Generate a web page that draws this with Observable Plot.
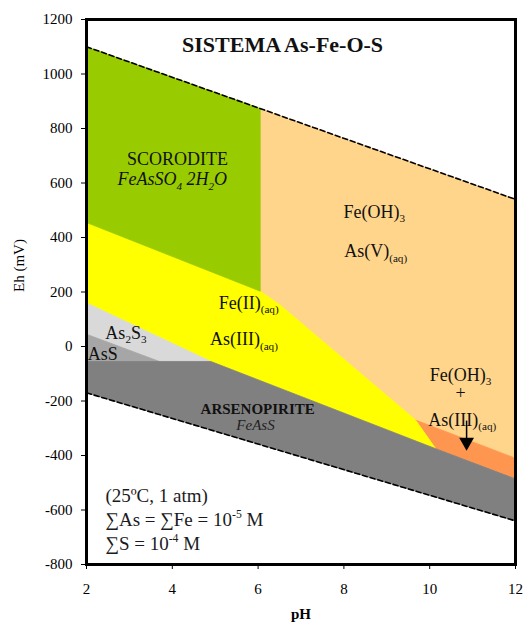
<!DOCTYPE html>
<html><head><meta charset="utf-8">
<script src="https://cdn.jsdelivr.net/npm/d3@7"></script>
<script src="https://cdn.jsdelivr.net/npm/@observablehq/plot@0.6"></script>
<style>body{margin:0;background:#fff} #chart svg{display:block}</style>
</head><body><div id="chart"></div>
<script>
// Water stability limits [pH, Eh mV]
const o2Line = [[2, 1100], [12, 540]];
const h2Line = [[2, -170], [12, -640]];
// Stability fields (polygon vertices [pH, Eh mV])
const feoh3AsV = [[6.05, 873], [12, 540], [12, -410], [9.67, -270], [6.53, 150], [6.05, 203]];
const feoh3AsIII = [[9.67, -270], [12, -410], [12, -486], [10.14, -375]];
const feIIAsIII = [[2, 455], [6.05, 203], [6.53, 150], [9.67, -270], [10.14, -375], [4.9, -55], [2, 160]];
const scorodite = [[2, 1100], [6.05, 873], [6.05, 203], [2, 455]];
const as2s3 = [[2, 160], [4.9, -55], [3.7, -55], [2, 45]];
const ass = [[2, 45], [3.7, -55], [2, -55]];
const arsenopyrite = [[2, -55], [4.9, -55], [10.14, -375], [12, -486], [12, -640], [2, -170]];
const fields = [feoh3AsV, feoh3AsIII, feIIAsIII, scorodite, as2s3, ass, arsenopyrite];
const fieldColors = ["#FFD58C", "#FF9650", "#FFFF00", "#99CC00", "#D9D9D9", "#A6A6A6", "#808080"];
// Ticks
const xTicks = [2, 4, 6, 8, 10, 12];
const yTicks = [-800, -600, -400, -200, 0, 200, 400, 600, 800, 1000, 1200];
// Labels [text, pH, Eh]
const title = [["SISTEMA As-Fe-O-S", 6.57, 1079]];
const plainLabels = [
  ["SCORODITE", 4.12, 666],
  ["Fe(OH)_{3}", 8.71, 473],
  ["As(V)_{(aq)}", 8.74, 327],
  ["Fe(II)_{(aq)}", 5.78, 139],
  ["As(III)_{(aq)}", 5.67, 4],
  ["As_{2}S_{3}", 2.92, 29],
  ["AsS", 2.38, -48],
  ["Fe(OH)_{3}", 10.72, -125],
  ["+", 10.72, -194],
  ["As(III)_{(aq)}", 10.76, -290]
];
const italicLabels = [
  ["FeAsSO_{4} 2H_{2}O", 4.0, 592]
];
const boldLabels = [["ARSENOPIRITE", 5.99, -246]];
const smallItalicLabels = [["FeAsS", 5.94, -305]];
const conditions = [
  ["(25ºC, 1 atm)", 2.44, -572],
  ["∑As = ∑Fe = 10^{-5} M", 2.44, -657],
  ["∑S = 10^{-4} M", 2.44, -745]
];
// Arrow [pH, Eh top, Eh bottom] and tip [pH, Eh]
const arrowStem = [[10.86, -272, -336]];
const arrowTip = [[10.86, -351]];

const serif = "Liberation Serif";
const X = d => d[0], Y = d => d[1];
const lx = d => d[1], ly = d => d[2], lt = d => d[0];

const marks = [];
fields.forEach((f, i) => marks.push(Plot.line(f, {x: X, y: Y, curve: "linear-closed", fill: fieldColors[i], stroke: fieldColors[i], strokeWidth: 0.8})));
marks.push(
  Plot.line(o2Line, {x: X, y: Y, stroke: "#000", strokeWidth: 1.6, strokeDasharray: "5,3"}),
  Plot.line(h2Line, {x: X, y: Y, stroke: "#000", strokeWidth: 1.6, strokeDasharray: "5,3"}),
  Plot.frame({stroke: "#000", strokeWidth: 3}),
  Plot.axisX({ticks: xTicks, tickSize: 5, tickPadding: 14, tickFormat: d => String(d), label: null, fontSize: 15, fontFamily: serif}),
  Plot.axisY({ticks: yTicks, tickSize: 5, tickPadding: 9, tickFormat: d => String(d), label: null, fontSize: 15, fontFamily: serif}),
  Plot.text(["pH"], {frameAnchor: "bottom", dy: 54, lineAnchor: "bottom", fontSize: 15, fontWeight: "bold", fontFamily: serif}),
  Plot.text(["Eh (mV)"], {frameAnchor: "left", dx: -67, rotate: -90, fontSize: 15, fontFamily: serif}),
  Plot.text(title, {x: lx, y: ly, text: lt, lineAnchor: "bottom", fontSize: 22, fontWeight: "bold", fontFamily: serif, fill: "#111"}),
  Plot.text(plainLabels, {x: lx, y: ly, text: lt, lineAnchor: "bottom", fontSize: 18, fontFamily: serif, fill: "#111"}),
  Plot.text(italicLabels, {x: lx, y: ly, text: lt, lineAnchor: "bottom", fontSize: 18, fontStyle: "italic", fontFamily: serif, fill: "#111"}),
  Plot.text(boldLabels, {x: lx, y: ly, text: lt, lineAnchor: "bottom", fontSize: 15, fontWeight: "bold", fontFamily: serif, fill: "#111"}),
  Plot.text(smallItalicLabels, {x: lx, y: ly, text: lt, lineAnchor: "bottom", fontSize: 15, fontStyle: "italic", fontFamily: serif, fill: "#222"}),
  Plot.text(conditions, {x: lx, y: ly, text: lt, textAnchor: "start", lineAnchor: "bottom", fontSize: 19, fontFamily: serif, fill: "#1a1a22"}),
  Plot.link(arrowStem, {x1: d => d[0], x2: d => d[0], y1: d => d[1], y2: d => d[2], stroke: "#000", strokeWidth: 1.5}),
  Plot.dot(arrowTip, {x: X, y: Y, symbol: "triangle", rotate: 180, r: 5.5, fill: "#000", stroke: "none"})
);

const chart = Plot.plot({
  width: 527, height: 622,
  marginLeft: 86, marginRight: 12, marginTop: 19, marginBottom: 58,
  x: {domain: [2, 12]},
  y: {domain: [-800, 1200]},
  marks
});

// Render _{sub} and ^{sup} as real tspans; force the serif family inline
(function richify(svg) {
  const ns = "http://www.w3.org/2000/svg";
  svg.querySelectorAll("text").forEach(el => {
    el.style.fontFamily = serif;
    const s = el.textContent;
    if (!/[_^]\{/.test(s)) return;
    const holder = el.closest("[font-size]");
    const fs = holder ? parseFloat(holder.getAttribute("font-size")) : 16;
    el.textContent = "";
    let shift = 0;
    const re = /([_^])\{([^}]*)\}|([^_^]+)/g;
    let m;
    while ((m = re.exec(s))) {
      const t = document.createElementNS(ns, "tspan");
      let target = 0;
      if (m[1]) {
        target = m[1] === "_" ? 0.25 * fs : -0.38 * fs;
        t.setAttribute("font-size", (0.62 * fs) + "px");
        t.textContent = m[2];
      } else t.textContent = m[3];
      if (target !== shift) { t.setAttribute("dy", target - shift); shift = target; }
      el.appendChild(t);
    }
  });
})(chart);
document.getElementById("chart").appendChild(chart);
</script>
</body></html>
